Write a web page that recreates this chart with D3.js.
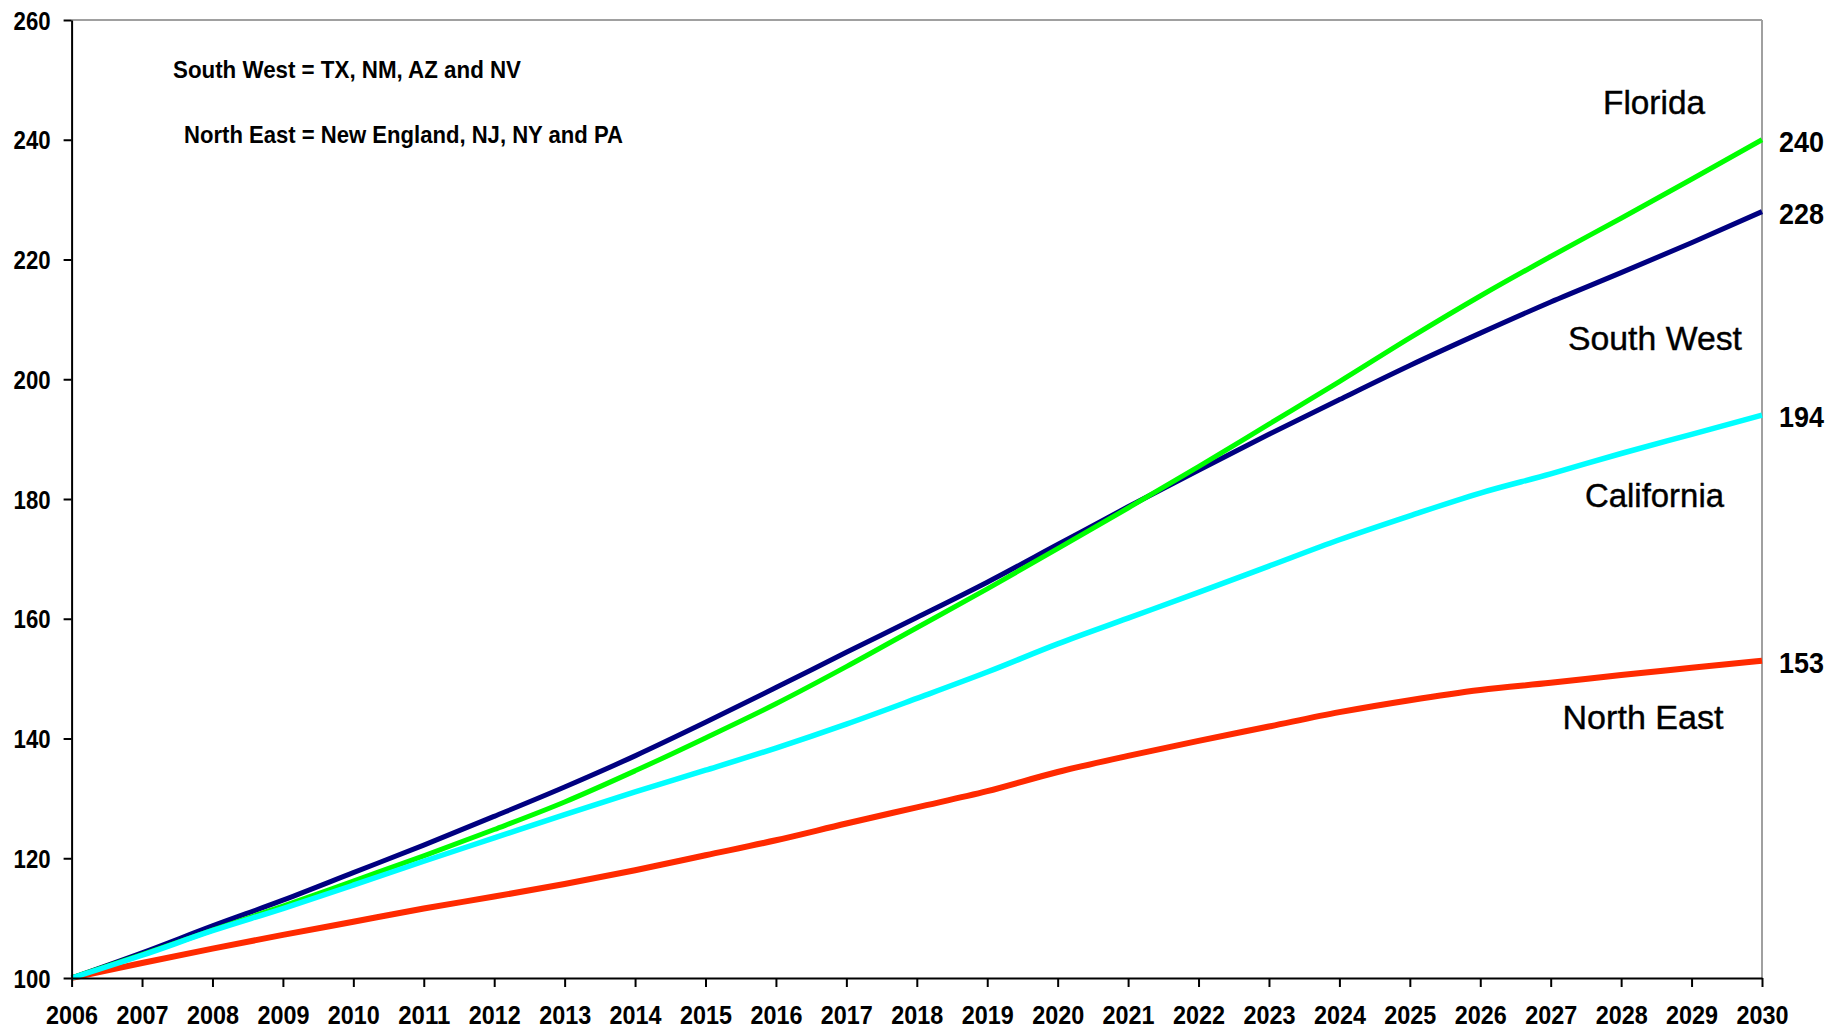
<!DOCTYPE html>
<html>
<head>
<meta charset="utf-8">
<script src="https://cdn.jsdelivr.net/npm/d3@7"></script>
<style>
  html, body { margin: 0; padding: 0; background: #fff; }
  svg { display: block; }
  text { font-family: "Liberation Sans", Arial, sans-serif; fill: #000; }
</style>
</head>
<body>
<svg id="chart" width="1841" height="1031"></svg>
<script>
// ---- data ----
const years = d3.range(2006, 2031);
const florida = [100, 103.9, 108, 112, 116.2, 120.4, 124.8, 129.4, 134.6, 140.1, 145.8, 152, 158.5, 165, 171.7, 178.5, 185.4, 192.5, 199.6, 206.9, 213.9, 220.5, 226.9, 233.4, 240];
const southWest = [100, 104.2, 108.7, 113, 117.6, 122.2, 127, 131.9, 137.1, 142.7, 148.5, 154.4, 160.2, 166.1, 172.4, 178.7, 184.8, 190.8, 196.6, 202.3, 207.7, 212.9, 217.8, 222.8, 228];
const california = [100, 103.8, 107.9, 111.6, 115.5, 119.5, 123.4, 127.3, 131.1, 134.7, 138.4, 142.4, 146.7, 151.1, 155.8, 160.1, 164.4, 168.8, 173.2, 177.2, 181, 184.2, 187.6, 190.8, 194];
const northEast = [100, 102.5, 104.9, 107.2, 109.4, 111.6, 113.6, 115.7, 118, 120.5, 123, 125.8, 128.5, 131.2, 134.4, 137.1, 139.6, 142, 144.4, 146.4, 148.1, 149.3, 150.6, 151.8, 153];
const yTicks = [100, 120, 140, 160, 180, 200, 220, 240, 260];
const seriesNames = ["North East", "South West", "Florida", "California"];
const seriesColors = ["#ff2a00", "#000080", "#00ff00", "#00ffff"];
const seriesWidths = [6, 5, 5, 5.5];
const endLabels = ["153", "228", "240", "194"];
const legendLines = ["South West = TX, NM, AZ and NV", "North East = New England, NJ, NY and PA"];

const seriesData = [northEast, southWest, florida, california];

// ---- layout ----
const svg = d3.select("#chart");
const L = 71.6, R = 1762, T = 20, B = 978;
const x = d3.scaleLinear().domain([2006, 2030]).range([L, R]);
const y = d3.scaleLinear().domain([100, 260]).range([B, T]);

// plot border (top & right gray)
svg.append("line").attr("x1", L).attr("x2", R).attr("y1", T).attr("y2", T)
  .attr("stroke", "#a0a0a0").attr("stroke-width", 2);
svg.append("line").attr("x1", R).attr("x2", R).attr("y1", T).attr("y2", B)
  .attr("stroke", "#a0a0a0").attr("stroke-width", 2);

// lines
const lineGen = d3.line().x((d, i) => x(years[i])).y(d => y(d)).curve(d3.curveMonotoneX);
seriesData.forEach((s, k) => {
  svg.append("path").datum(s)
    .attr("d", lineGen)
    .attr("fill", "none")
    .attr("stroke", seriesColors[k])
    .attr("stroke-width", seriesWidths[k])
    .attr("stroke-linejoin", "round");
});

// left axis
const gy = svg.append("g").attr("transform", `translate(${L},0)`)
  .call(d3.axisLeft(y).tickValues(yTicks).tickSize(8).tickSizeOuter(0).tickFormat(d3.format("d")));
gy.select(".domain").attr("stroke", "#000").attr("stroke-width", 2);
gy.selectAll(".tick line").attr("stroke", "#000").attr("stroke-width", 2);
gy.selectAll(".tick text")
  .attr("x", -21).attr("dy", null).attr("y", 9)
  .style("font-family", '"Liberation Sans", Arial, sans-serif')
  .style("font-size", "26px").style("font-weight", "bold").attr("fill", "#000")
  .attr("textLength", 37).attr("lengthAdjust", "spacingAndGlyphs");

// bottom axis
const gx = svg.append("g").attr("transform", `translate(0,${B})`)
  .call(d3.axisBottom(x).tickValues(years).tickSize(9).tickSizeOuter(0).tickFormat(d3.format("d")));
gx.select(".domain").attr("stroke", "#000").attr("stroke-width", 2);
gx.selectAll(".tick line").attr("stroke", "#000").attr("stroke-width", 2);
gx.selectAll(".tick text")
  .attr("y", 46).attr("dy", null)
  .style("font-family", '"Liberation Sans", Arial, sans-serif')
  .style("font-size", "25px").style("font-weight", "bold").attr("fill", "#000")
  .attr("textLength", 52).attr("lengthAdjust", "spacingAndGlyphs");

// legend notes (top-left)
const legendPos = [[173, 78, 348], [184, 143, 439]];
legendLines.forEach((t, i) => {
  svg.append("text").attr("x", legendPos[i][0]).attr("y", legendPos[i][1])
    .attr("textLength", legendPos[i][2]).attr("lengthAdjust", "spacingAndGlyphs")
    .style("font-size", "24px").style("font-weight", "bold").text(t);
});

// series name labels
const namePos = { "Florida": [1654, 102, 102], "South West": [1655, 338, 174], "California": [1654.5, 495, 139], "North East": [1643, 717, 161] };
seriesNames.forEach(n => {
  const p = namePos[n];
  svg.append("text").attr("x", p[0] - p[2] / 2).attr("y", p[1] + 12)
    .attr("textLength", p[2]).attr("lengthAdjust", "spacingAndGlyphs")
    .style("font-size", "33px").style("stroke", "#000").style("stroke-width", 0.4).text(n);
});

// end value labels
seriesData.forEach((s, k) => {
  svg.append("text").attr("x", 1779).attr("y", y(s[s.length - 1]) + 12)
    .attr("textLength", 45).attr("lengthAdjust", "spacingAndGlyphs")
    .style("font-size", "30px").style("font-weight", "bold").text(endLabels[k]);
});
</script>
</body>
</html>
